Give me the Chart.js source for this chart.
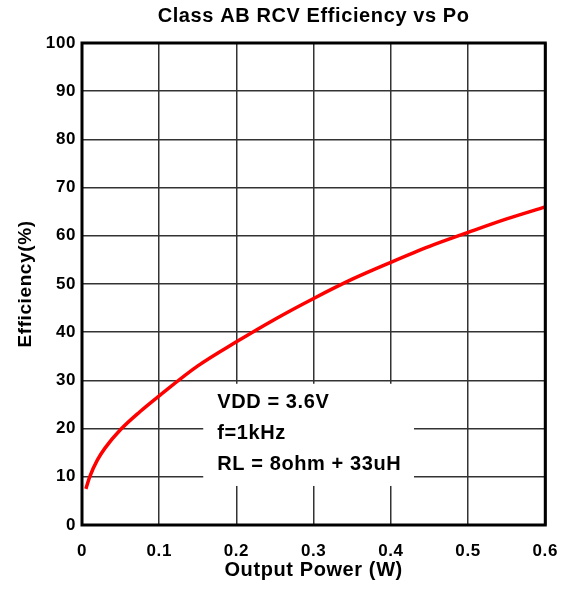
<!DOCTYPE html>
<html>
<head>
<meta charset="utf-8">
<script src="https://cdn.jsdelivr.net/npm/chart.js@4.4.1/dist/chart.umd.min.js"></script>
<style>
  html, body { margin: 0; padding: 0; background: #fff; }
  #wrap { width: 564px; height: 592px; }
</style>
</head>
<body>
<div id="wrap"><canvas id="chart" width="564" height="592"></canvas></div>
<script>
// output power (W) and efficiency (%)
const power = [0.005, 0.01, 0.02, 0.03, 0.05, 0.075, 0.1, 0.15, 0.2, 0.25, 0.3, 0.35, 0.4, 0.45, 0.5, 0.55, 0.6];
const efficiency = [7.5, 10, 13.5, 16, 19.8, 23.5, 26.8, 33, 38, 42.7, 47, 51, 54.5, 57.8, 60.7, 63.5, 66];
const notes = ["VDD = 3.6V", "f=1kHz", "RL = 8ohm + 33uH"];

const FONT = "'Liberation Sans', Arial, sans-serif";
const SPACING = "0.6px";

// the reference text is set slightly wide
const wideText = {
  id: "wideText",
  beforeUpdate(chart) {
    chart.ctx.letterSpacing = SPACING;
  },
  beforeDraw(chart) {
    chart.ctx.letterSpacing = SPACING;
  },
};

// white legend box with test conditions, placed in data units
const notesBox = {
  id: "notesBox",
  beforeDatasetsDraw(chart) {
    const { ctx, scales } = chart;
    const x0 = scales.x.getPixelForValue(0.157);
    const x1 = scales.x.getPixelForValue(0.43);
    const y0 = scales.y.getPixelForValue(29.3);
    const y1 = scales.y.getPixelForValue(8.1);
    ctx.save();
    ctx.fillStyle = "#fff";
    ctx.fillRect(x0, y0, x1 - x0, y1 - y0);
    ctx.fillStyle = "#000";
    ctx.font = "bold 20px " + FONT;
    ctx.textBaseline = "middle";
    notes.forEach((t, i) => {
      ctx.fillText(t, x0 + 14, y0 + 19 + i * 31);
    });
    ctx.restore();
  },
  afterDraw(chart) {
    const a = chart.chartArea;
    const ctx = chart.ctx;
    ctx.save();
    ctx.strokeStyle = "#000";
    ctx.lineWidth = 3;
    ctx.strokeRect(a.left, a.top, a.right - a.left, a.bottom - a.top);
    ctx.restore();
  },
};

new Chart(document.getElementById("chart"), {
  type: "line",
  data: {
    datasets: [
      {
        data: power.map((p, i) => ({ x: p, y: efficiency[i] })),
        borderColor: "#ff0000",
        borderWidth: 3.5,
        pointRadius: 0,
        cubicInterpolationMode: "monotone",
        fill: false,
      },
    ],
  },
  plugins: [wideText, notesBox],
  options: {
    responsive: false,
    animation: false,
    layout: { padding: { top: 0, right: 18, bottom: 0, left: 0 } },
    plugins: {
      legend: { display: false },
      tooltip: { enabled: false },
      title: {
        display: true,
        fullSize: false,
        text: "Class AB RCV Efficiency vs Po",
        color: "#000",
        font: { family: FONT, size: 20, weight: "bold" },
        padding: { top: 4.5, bottom: 14.5 },
      },
    },
    scales: {
      x: {
        type: "linear",
        min: 0,
        max: 0.6,
        afterFit(scale) {
          scale.height = 67;
        },
        border: { display: false },
        grid: { color: "#333", lineWidth: 1.5, tickLength: 10, tickColor: "rgba(0,0,0,0)" },
        ticks: {
          stepSize: 0.1,
          color: "#000",
          padding: 6,
          font: { family: FONT, size: 17, weight: "bold" },
          callback: (v) => (v === 0 ? "0" : v.toFixed(1)),
        },
        title: {
          display: true,
          text: "Output Power (W)",
          color: "#000",
          font: { family: FONT, size: 20, weight: "bold" },
          padding: { top: 10, bottom: 10 },
        },
      },
      y: {
        min: 0,
        max: 100,
        afterFit(scale) {
          scale.width = 82;
        },
        border: { display: false },
        grid: { color: "#333", lineWidth: 1.5, drawTicks: false },
        ticks: {
          stepSize: 10,
          color: "#000",
          padding: 6,
          font: { family: FONT, size: 17, weight: "bold" },
        },
        title: {
          display: true,
          text: "Efficiency(%)",
          color: "#000",
          font: { family: FONT, size: 19, weight: "bold" },
          padding: { top: 14.5, bottom: 10 },
        },
      },
    },
  },
});
</script>
</body>
</html>
